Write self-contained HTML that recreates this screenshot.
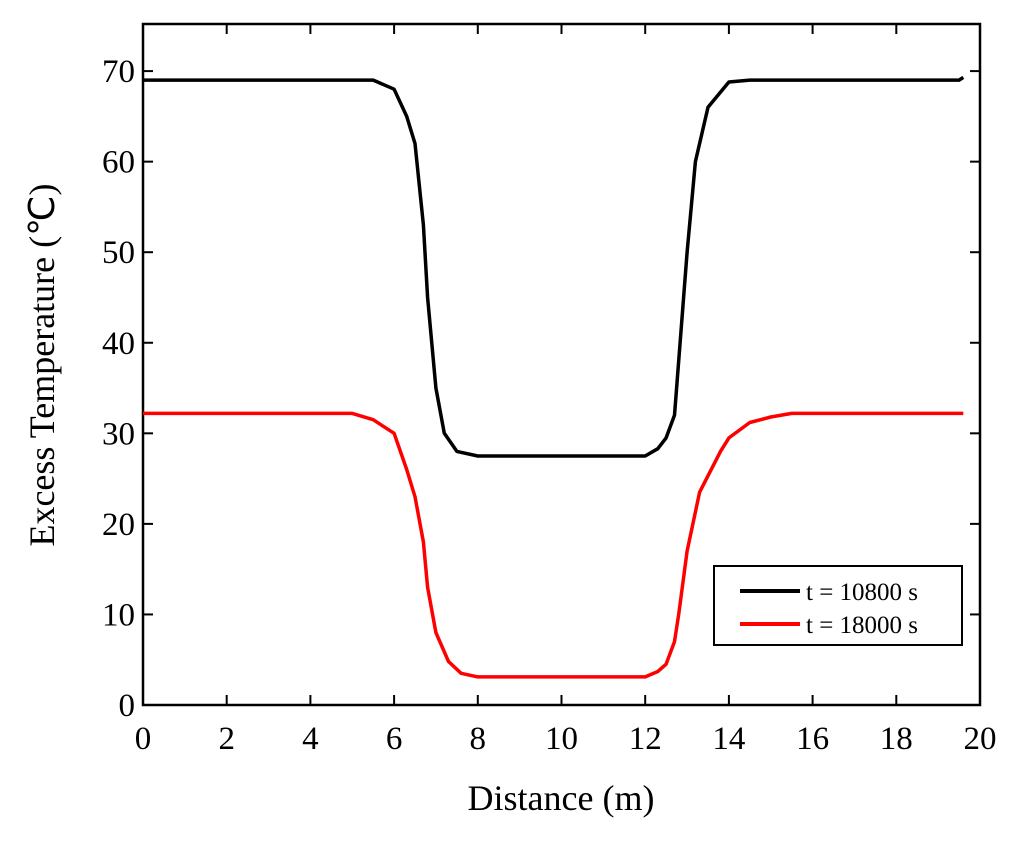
<!DOCTYPE html>
<html><head><meta charset="utf-8"><style>
body{margin:0;background:#fff}
svg text{font-family:"Liberation Serif",serif;fill:#000}
</style></head><body>
<svg width="1024" height="843" xmlns="http://www.w3.org/2000/svg">
<g id="axes"></g>
<g id="series"></g>
<text x="561" y="810" font-size="36" text-anchor="middle">Distance (m)</text>
<text transform="translate(54,365) rotate(-90)" font-size="36" text-anchor="middle">Excess Temperature (℃)</text>
<g>
<rect x="714" y="566" width="248" height="79" fill="#fff" stroke="#000" stroke-width="2"/>
<line x1="740" y1="591" x2="800" y2="591" stroke="#000" stroke-width="4"/>
<text x="806" y="600" font-size="25">t = 10800 s</text>
<line x1="740" y1="624" x2="800" y2="624" stroke="#f00" stroke-width="4"/>
<text x="806" y="633" font-size="25">t = 18000 s</text>
</g>
</svg>
<script>
const xTicks=[0,2,4,6,8,10,12,14,16,18,20];
const yTicks=[0,10,20,30,40,50,60,70];
const blackX=[0,5.5,6,6.3,6.5,6.7,6.8,7,7.2,7.5,8,12,12.3,12.5,12.7,12.8,13,13.2,13.5,14,14.5,19.5,19.6];
const blackY=[69,69,68,65,62,53,45,35,30,28,27.5,27.5,28.3,29.5,32,38,50,60,66,68.8,69,69,69.3];
const redX=[0,5,5.5,6,6.3,6.5,6.7,6.8,7,7.3,7.6,8,12,12.3,12.5,12.7,12.8,13,13.3,13.8,14,14.5,15,15.5,19.6];
const redY=[32.2,32.2,31.5,30,26,23,18,13,8,4.8,3.5,3.1,3.1,3.7,4.5,7,10,17,23.5,28,29.5,31.2,31.8,32.2,32.2];
const NS="http://www.w3.org/2000/svg";
const X0=143,X1=980,Y0=705,YT=24,YMAX=75.2;
const sx=v=>X0+(v-0)/(20-0)*(X1-X0);
const sy=v=>Y0-v/YMAX*(Y0-YT);
function mk(t,a,p){const e=document.createElementNS(NS,t);for(const k in a)e.setAttribute(k,a[k]);p.appendChild(e);return e;}
const ax=document.getElementById('axes');
const fr=mk('rect',{x:X0,y:YT,width:X1-X0,height:Y0-YT,fill:'none',stroke:'#000','stroke-width':2.5},ax);


xTicks.forEach(v=>{
 const l=mk('line',{x1:sx(v),x2:sx(v),y1:Y0,y2:Y0-10,stroke:'#000','stroke-width':2},ax);
 
 
 const l2=mk('line',{x1:sx(v),x2:sx(v),y1:YT,y2:YT+10,stroke:'#000','stroke-width':2},ax);
 
 
 const t=mk('text',{x:sx(v),y:Y0+44,'font-size':33,'text-anchor':'middle'},ax);
 t.textContent=v;
 
 
});
yTicks.forEach(v=>{
 const l=mk('line',{x1:X0,x2:X0+10,y1:sy(v),y2:sy(v),stroke:'#000','stroke-width':2},ax);
 
 
 const l2=mk('line',{x1:X1,x2:X1-10,y1:sy(v),y2:sy(v),stroke:'#000','stroke-width':2},ax);
 
 
 const t=mk('text',{x:X0-8,y:sy(v)+11,'font-size':33,'text-anchor':'end'},ax);
 t.textContent=v;
 
 
});
const sg=document.getElementById('series');
function line(xs,ys,c,n){
 const d=xs.map((x,i)=>(i?'L':'M')+sx(x).toFixed(1)+','+sy(ys[i]).toFixed(1)).join('');
 const p=mk('path',{d:d,fill:'none',stroke:c,'stroke-width':3.5,'stroke-linejoin':'round'},sg);
 
 
}
line(blackX,blackY,'#000','series-t10800');
line(redX,redY,'#f00','series-t18000');
</script>
</body></html>
